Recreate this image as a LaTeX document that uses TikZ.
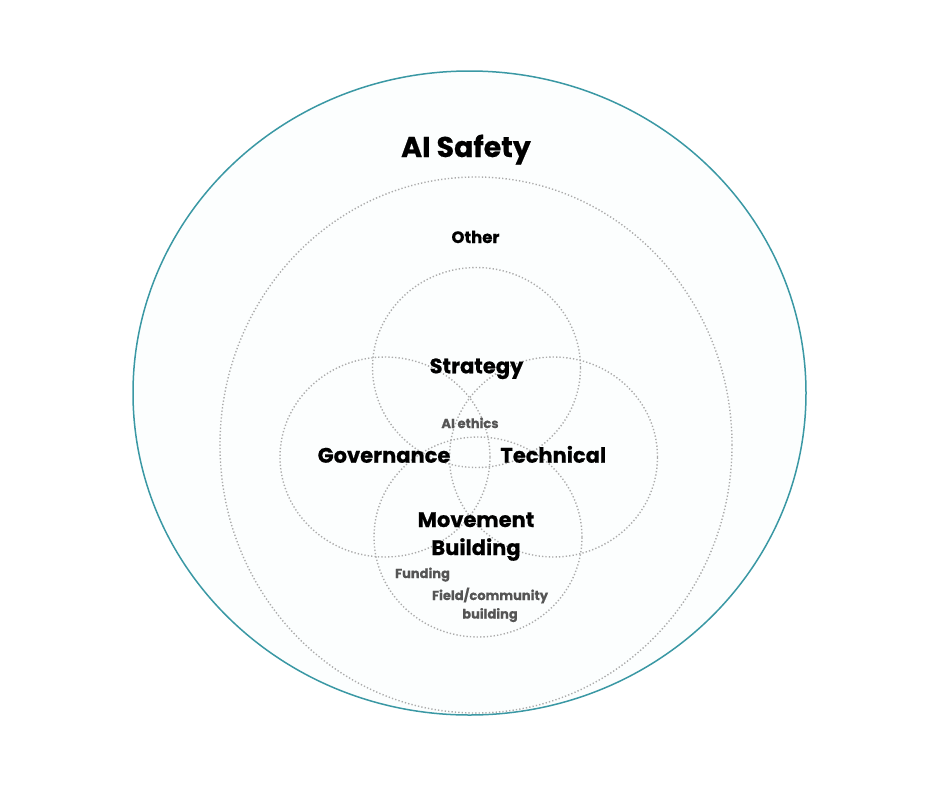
\documentclass[tikz,border=0pt]{standalone}
\usepackage{fontspec}
\setmainfont{Poppins}[BoldFeatures={FakeBold=0.6}]
\definecolor{teal1}{HTML}{3A98A4}
\definecolor{dotgray}{HTML}{ABABAB}
\definecolor{labgray}{HTML}{555555}
\definecolor{tint}{HTML}{FCFEFE}
\tikzset{
  dotring/.style={draw=dotgray, line width=1.4pt, dash pattern=on 1.3pt off 2.1pt},
  bigtitle/.style={font=\fontsize{28.5}{34}\selectfont\bfseries, text=black, inner sep=0pt, anchor=base},
  areatext/.style={font=\fontsize{21}{28}\selectfont\bfseries, text=black, inner sep=0pt, anchor=base, align=center},
  othertext/.style={font=\fontsize{16.5}{20}\selectfont\bfseries, text=black, inner sep=0pt, anchor=base},
  subtext/.style={font=\fontsize{13}{18}\selectfont\bfseries, text=labgray, inner sep=0pt, anchor=base, align=center}
}
\begin{document}
\begin{tikzpicture}[x=1pt, y=-1pt]
\useasboundingbox (0,0) rectangle (940,788);
% outer AI Safety ellipse
\draw[teal1, line width=1.5pt, fill=tint] (469.5,393) ellipse [x radius=336.5pt, y radius=322pt];
% Other ring
\draw[dotring] (476,445) ellipse [x radius=256pt, y radius=268pt];
% four areas
\draw[dotring] (476.5,367.5) ellipse [x radius=104pt, y radius=100pt];
\draw[dotring] (385,457) ellipse [x radius=105pt, y radius=100pt];
\draw[dotring] (553.5,457) ellipse [x radius=104pt, y radius=100pt];
\draw[dotring] (478,537) ellipse [x radius=104pt, y radius=100pt];
% labels
\node[bigtitle] (safety) at (466,157) {AI Safety};
\node[othertext] (other) at (475.5,243) {Other};
\node[areatext] (strategy) at (476.5,373.3) {Strategy};
\node[subtext] (ethics) at (470,428) {AI ethics};
\node[areatext] (gov) at (384,462.7) {Governance};
\node[areatext] (tech) at (553.3,462.7) {Technical};
\node[areatext] (move) at (476,555) {Movement\\Building};
\node[subtext] (fund) at (422.5,578) {Funding};
\node[subtext, font=\fontsize{13}{18.5}\selectfont\bfseries] (field) at (490,618.5) {Field/community\\building};
\end{tikzpicture}
\end{document}
